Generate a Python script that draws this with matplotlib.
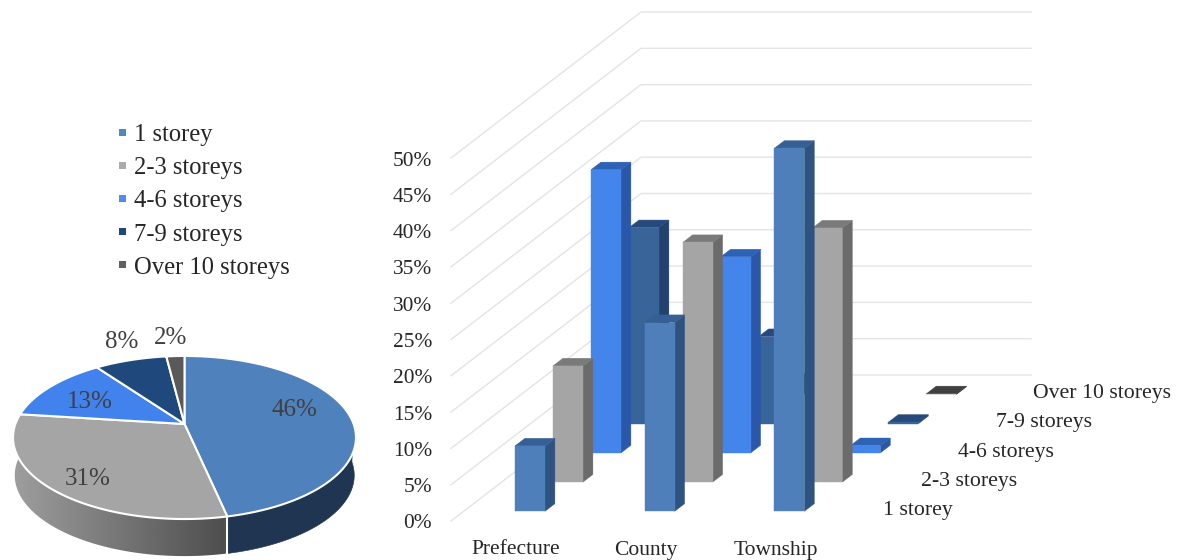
"""Storey share by settlement level: perspective pie and pseudo-3D column chart."""
import matplotlib

matplotlib.use("Agg")
import matplotlib.pyplot as plt
import numpy as np

plt.rcParams["font.family"] = ["Liberation Serif", "DejaVu Serif"]

# ---------------------------------------------------------------------------
# Data
# ---------------------------------------------------------------------------
SERIES = ["1 storey", "2-3 storeys", "4-6 storeys", "7-9 storeys", "Over 10 storeys"]
CATEGORIES = ["Prefecture", "County", "Township"]
TICKS = [0, 5, 10, 15, 20, 25, 30, 35, 40, 45, 50]

PIE_LABELS = [46, 31, 13, 8, 2]
PIE_SWEEP = [46.6, 30.4, 13, 8, 2]  # slice sizes as drawn, before rounding

ONE_STOREY = [9, 26, 50]
TWO_THREE = [16, 33, 35]
FOUR_SIX = [39, 27, 1]
SEVEN_NINE = [27, 12, 0.2]
OVER_TEN = [3, 2, 0.1]

# (front, side, top)
BAR_COLORS = [
    ("#4E7FBB", "#2F5380", "#355F95"),
    ("#A5A5A5", "#6B6B6B", "#7A7A7A"),
    ("#4485EC", "#2A57A8", "#2D62B5"),
    ("#38649A", "#23416D", "#264A7C"),
    ("#5A5A5A", "#333333", "#404040"),
]
PIE_COLORS = ["#4F81BD", "#A5A5A5", "#4282EC", "#1F497D", "#595959"]
LEGEND_COLORS = ["#5087C4", "#ABABAB", "#4F8CF0", "#1F497D", "#606060"]
TEXT = "#262626"
GRID = "#E4E4E4"

# Column chart geometry, in pixels
X0, Y0 = 451, 521
WALL_W = 390
PX_PER_PCT = 7.26
DEPTH_X, DEPTH_Y = 190, -146
CAT_W = 129.7
BAR_W = 30
BAR_DEPTH = 0.26  # share of one series slot

# Pie geometry, in pixels
PIE_X, PIE_Y = 184.5, 424
PIE_A, PIE_B, PIE_K = 169.1, 79.3, 0.1656
PIE_DEPTH = 38


def project(x, depth, value):
    """Floor position x (px along the front), depth (0..1), value (%) to pixels."""
    return X0 + x + depth * DEPTH_X, Y0 + depth * DEPTH_Y - value * PX_PER_PCT


def draw_bar(ax, cat, s, value, colors):
    n = len(SERIES)
    d0 = (s + 1 / 3) / n
    d1 = d0 + BAR_DEPTH / n
    x0 = CAT_W * (cat + 0.5) - BAR_W / 2 + 1.5
    x1 = x0 + BAR_W
    front = [project(x0, d0, 0), project(x1, d0, 0), project(x1, d0, value), project(x0, d0, value)]
    side = [project(x1, d0, 0), project(x1, d1, 0), project(x1, d1, value), project(x1, d0, value)]
    top = [project(x0, d0, value), project(x1, d0, value), project(x1, d1, value), project(x0, d1, value)]
    for poly, col in zip((side, top, front), (colors[1], colors[2], colors[0])):
        ax.fill(*zip(*poly), facecolor=col, edgecolor=col, lw=0.3, zorder=3)


def pie_xy(theta, drop=0.0, scale=1.0):
    """Perspective projection of a circle; theta clockwise from 12 o'clock, degrees."""
    rad = np.radians(theta)
    w = 1 + PIE_K * np.cos(rad)
    x = PIE_X + scale * PIE_A * np.sin(rad) / w
    y = PIE_Y - scale * PIE_B * np.cos(rad) / w + drop
    return x, y


def draw_pie(ax):
    edges = np.concatenate([[0], np.cumsum(PIE_SWEEP)]) * 3.6

    def wall(start, stop):
        th = np.linspace(start, stop, 90)
        xt, yt = pie_xy(th)
        xb, yb = pie_xy(th, PIE_DEPTH, 0.99)
        return np.r_[xt, xb[::-1]], np.r_[yt, yb[::-1]]

    # dark blue wall under the first slice
    wx, wy = wall(90, edges[1])
    ax.fill(wx, wy, facecolor="#1F3552", edgecolor="#1F3552", lw=0.4, zorder=2)

    # grey wall, darkening towards the first slice
    wx, wy = wall(edges[1], 275)
    patch = ax.fill(wx, wy, facecolor="none", edgecolor="none", zorder=2)[0]
    ramp = np.linspace(0.62, 0.30, 256).reshape(1, -1)
    img = ax.imshow(
        ramp,
        cmap="gray",
        vmin=0,
        vmax=1,
        extent=(13, 229, 560, 400),
        aspect="auto",
        interpolation="bilinear",
        zorder=2,
    )
    img.set_clip_path(patch)

    sx, sy = pie_xy(np.array([edges[1], edges[1]]))
    ax.plot(sx, [sy[0], sy[0] + PIE_DEPTH], color="white", lw=1.5, zorder=2.5)

    # top surface
    for i, col in enumerate(PIE_COLORS):
        th = np.linspace(edges[i], edges[i + 1], 80)
        x, y = pie_xy(th)
        ax.fill(
            np.r_[PIE_X, x],
            np.r_[PIE_Y, y],
            facecolor=col,
            edgecolor="white",
            lw=1.5,
            joinstyle="round",
            zorder=3,
        )


fig = plt.figure(figsize=(11.82, 5.6), dpi=100)
ax = fig.add_axes([0, 0, 1, 1])
ax.axis("off")

# ---------------------------------------------------------------------------
# Pie and its legend
# ---------------------------------------------------------------------------
draw_pie(ax)
ax.set_xlim(0, 1182)
ax.set_ylim(560, 0)

pie_label_pos = [(294, 410), (88, 479), (90, 402), (122, 342), (171, 338)]
for share, (lx, ly) in zip(PIE_LABELS, pie_label_pos):
    ax.text(lx, ly, f"{share}%", fontsize=18, color="#404040", ha="center", va="center", zorder=4)

for i, (name, col) in enumerate(zip(SERIES, LEGEND_COLORS)):
    row_y = 132 + 33.2 * i
    ax.add_patch(plt.Rectangle((118.5, row_y - 3.5), 7, 7, facecolor=col, edgecolor="none"))
    ax.text(134, row_y + 3, name, fontsize=17.7, color=TEXT, ha="left", va="center")

# ---------------------------------------------------------------------------
# Walls
# ---------------------------------------------------------------------------
for tick in TICKS:
    ax_x = [X0, X0 + DEPTH_X, X0 + DEPTH_X + WALL_W]
    y_front = Y0 - tick * PX_PER_PCT
    ax_y = [y_front, y_front + DEPTH_Y, y_front + DEPTH_Y]
    ax.plot(ax_x, ax_y, color=GRID, lw=1.0, zorder=1)
    ax.text(432, y_front + 3, f"{tick}%", fontsize=15.4, color=TEXT, ha="right", va="center")

# ---------------------------------------------------------------------------
# Columns, back row first
# ---------------------------------------------------------------------------
rows = [ONE_STOREY, TWO_THREE, FOUR_SIX, SEVEN_NINE, OVER_TEN]
for s in range(len(SERIES) - 1, -1, -1):
    for c, value in enumerate(rows[s]):
        draw_bar(ax, c, s, value, BAR_COLORS[s])

for c, name in enumerate(CATEGORIES):
    ax.text(516 + CAT_W * c, 550, name, fontsize=15.5, color=TEXT, ha="center", va="center")

for s, name in enumerate(SERIES):
    ax.text(883 + 37.6 * s, 511 - 29.4 * s, name, fontsize=15.7, color=TEXT, ha="left", va="center")

fig.savefig("out.png", dpi=100)
